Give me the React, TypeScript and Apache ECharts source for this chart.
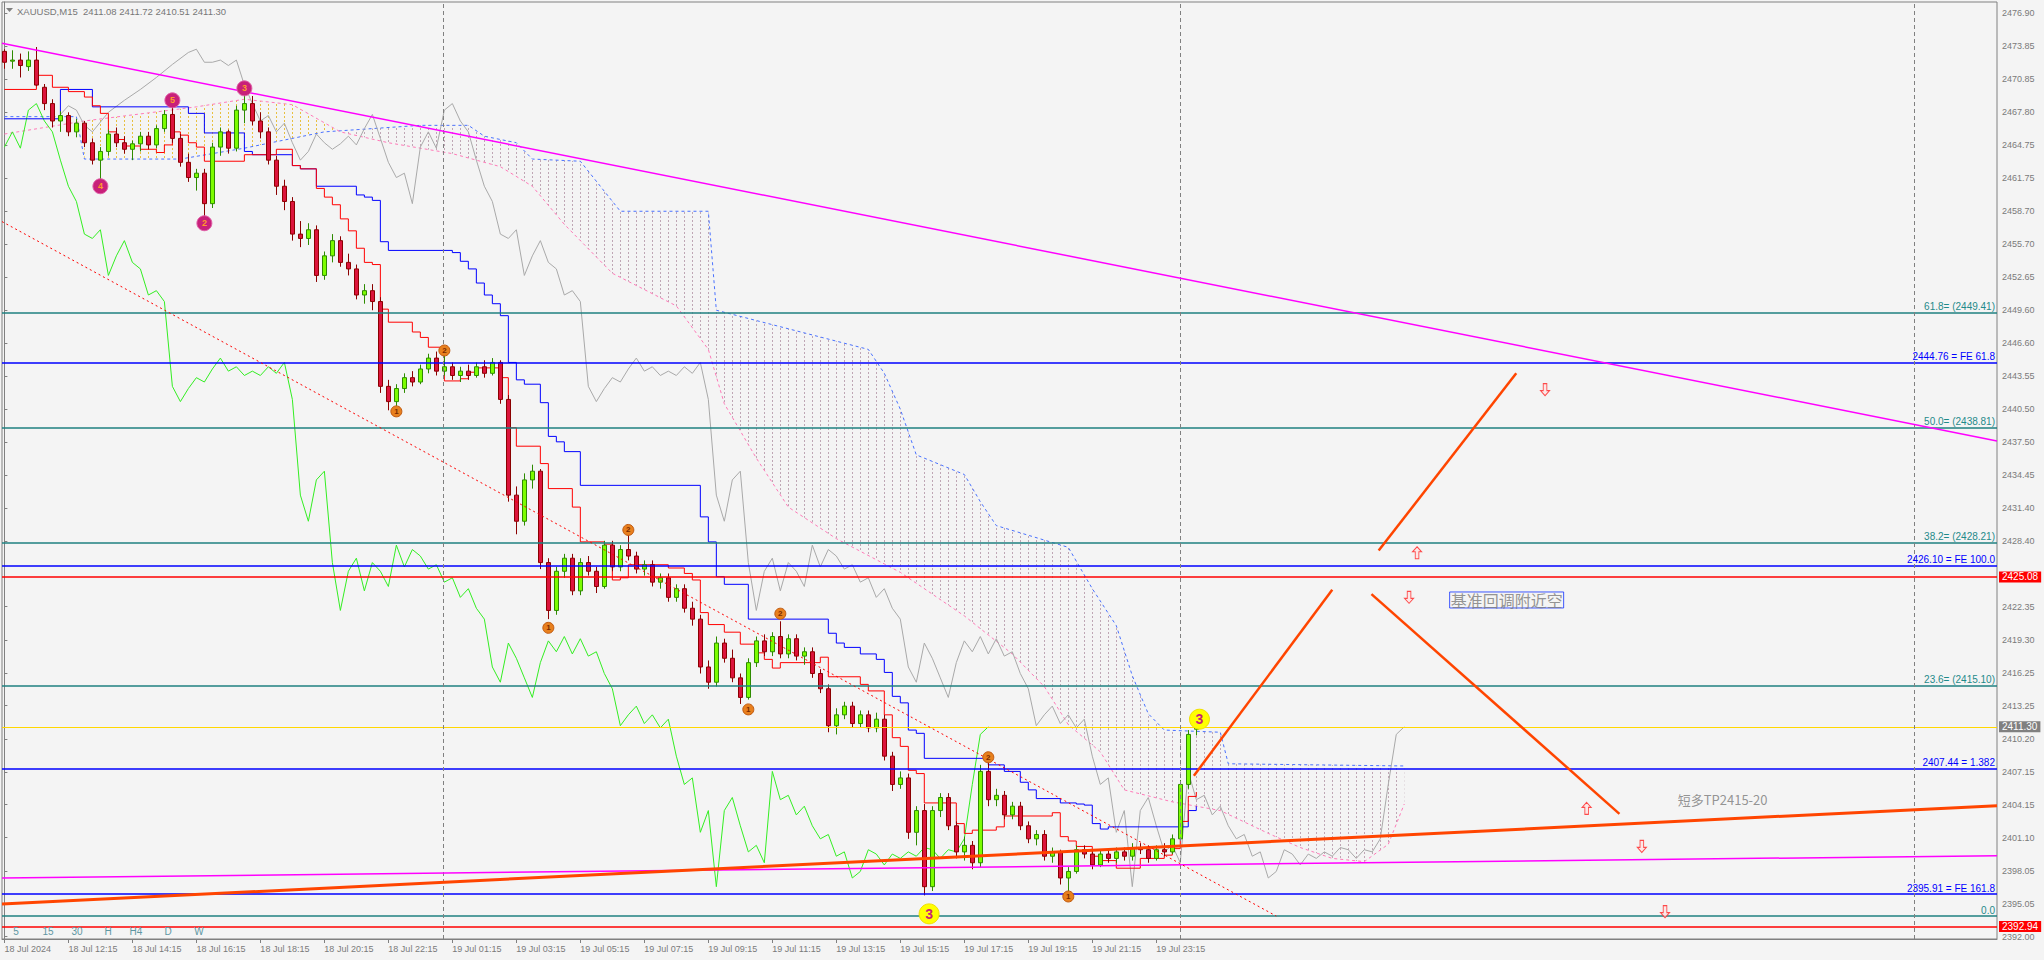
import React, { useEffect, useRef } from "react";
import * as echarts from "echarts";

// ---------- DATA ----------
// candles: [open, high, low, close], M15 bars from 18 Jul 10:15
const candles: number[][] = [
  [2473.4, 2473.6, 2471.8, 2472.4], [2472.5, 2473.5, 2471.8, 2472.6], [2472.6, 2473.2, 2471.0, 2472.1], [2472.0, 2473.4, 2471.6, 2472.6],
  [2472.6, 2473.8, 2470.2, 2470.3], [2470.1, 2470.4, 2468.0, 2468.6], [2468.6, 2469.0, 2466.4, 2467.0], [2467.0, 2467.9, 2466.0, 2467.5],
  [2467.5, 2467.8, 2465.6, 2466.0], [2466.0, 2467.2, 2465.5, 2466.8], [2466.8, 2467.0, 2464.6, 2465.0], [2465.0, 2465.4, 2463.0, 2463.4],
  [2463.4, 2464.6, 2461.6, 2464.2], [2464.2, 2466.2, 2463.8, 2465.8], [2465.8, 2466.4, 2464.6, 2465.0], [2465.0, 2465.6, 2464.0, 2464.4],
  [2464.4, 2465.2, 2463.4, 2464.9], [2464.9, 2466.0, 2464.2, 2465.6], [2465.6, 2466.0, 2464.4, 2464.8], [2464.8, 2466.6, 2464.5, 2466.3],
  [2466.3, 2468.0, 2466.0, 2467.6], [2467.6, 2468.6, 2465.0, 2465.4], [2465.4, 2465.8, 2462.8, 2463.2], [2463.2, 2464.0, 2461.4, 2461.8],
  [2461.8, 2462.6, 2460.6, 2462.2], [2462.2, 2462.6, 2458.0, 2459.4], [2459.4, 2465.0, 2459.0, 2464.6], [2464.6, 2466.4, 2463.8, 2466.0],
  [2466.0, 2466.2, 2464.0, 2464.5], [2464.5, 2468.4, 2464.2, 2468.0], [2468.0, 2469.8, 2466.8, 2468.6], [2468.6, 2469.3, 2466.6, 2467.0],
  [2467.0, 2467.8, 2465.4, 2466.0], [2466.0, 2466.4, 2463.0, 2463.4], [2463.4, 2463.8, 2460.2, 2461.0], [2461.0, 2461.6, 2458.8, 2459.6],
  [2459.6, 2460.0, 2456.0, 2456.6], [2456.6, 2457.8, 2455.4, 2456.2], [2456.2, 2457.6, 2455.6, 2457.0], [2457.0, 2457.4, 2452.2, 2452.8],
  [2452.8, 2455.0, 2452.4, 2454.6], [2454.6, 2456.6, 2454.0, 2456.0], [2456.0, 2456.4, 2453.6, 2454.0], [2454.0, 2454.8, 2452.8, 2453.4],
  [2453.4, 2453.8, 2450.6, 2451.0], [2451.0, 2452.0, 2450.2, 2451.4], [2451.4, 2452.0, 2449.6, 2450.4], [2450.4, 2450.8, 2442.0, 2442.6],
  [2442.6, 2443.2, 2440.4, 2441.2], [2441.2, 2442.8, 2440.8, 2442.4], [2442.4, 2443.8, 2442.0, 2443.4], [2443.4, 2444.0, 2442.6, 2443.0],
  [2443.0, 2444.6, 2442.8, 2444.2], [2444.2, 2445.6, 2443.8, 2445.2], [2445.2, 2445.8, 2443.6, 2444.0], [2444.0, 2445.6, 2443.6, 2444.4],
  [2444.4, 2444.8, 2443.2, 2443.6], [2443.6, 2444.4, 2443.0, 2444.0], [2444.0, 2444.6, 2443.2, 2443.6], [2443.6, 2444.8, 2443.4, 2444.4],
  [2444.4, 2445.0, 2443.4, 2443.8], [2443.8, 2445.2, 2443.6, 2444.8], [2444.8, 2445.0, 2441.0, 2441.4], [2441.4, 2441.8, 2432.0, 2432.6],
  [2432.6, 2433.4, 2429.0, 2430.2], [2430.2, 2434.6, 2429.8, 2434.0], [2434.0, 2435.4, 2433.2, 2434.8], [2434.8, 2435.0, 2425.8, 2426.4],
  [2426.4, 2426.8, 2421.2, 2422.0], [2422.0, 2426.0, 2421.6, 2425.6], [2425.6, 2427.2, 2425.0, 2426.8], [2426.8, 2427.2, 2423.4, 2423.8],
  [2423.8, 2426.8, 2423.4, 2426.4], [2426.4, 2427.0, 2425.2, 2425.6], [2425.6, 2426.0, 2423.6, 2424.2], [2424.2, 2428.4, 2424.0, 2428.0],
  [2428.0, 2428.4, 2425.6, 2426.0], [2426.0, 2428.0, 2425.6, 2427.6], [2427.6, 2429.0, 2426.6, 2427.0], [2427.0, 2427.4, 2425.4, 2425.8],
  [2425.8, 2426.6, 2425.2, 2426.2], [2426.2, 2426.6, 2424.2, 2424.6], [2424.6, 2425.4, 2424.0, 2425.0], [2425.0, 2425.4, 2422.8, 2423.2],
  [2423.2, 2424.4, 2422.8, 2424.0], [2424.0, 2424.4, 2421.8, 2422.2], [2422.2, 2422.8, 2420.6, 2421.2], [2421.2, 2421.6, 2416.2, 2416.8],
  [2416.8, 2417.4, 2414.8, 2415.4], [2415.4, 2419.6, 2415.0, 2419.0], [2419.0, 2419.4, 2417.2, 2417.6], [2417.6, 2418.4, 2415.4, 2415.8],
  [2415.8, 2416.2, 2413.4, 2414.0], [2414.0, 2417.6, 2413.8, 2417.2], [2417.2, 2419.6, 2416.8, 2419.2], [2419.2, 2419.8, 2417.8, 2418.2],
  [2418.2, 2420.0, 2417.8, 2419.6], [2419.6, 2421.0, 2417.6, 2418.0], [2418.0, 2419.8, 2417.6, 2419.4], [2419.4, 2419.8, 2417.4, 2417.8],
  [2417.8, 2418.6, 2417.0, 2418.2], [2418.2, 2418.6, 2415.8, 2416.2], [2416.2, 2416.6, 2414.4, 2414.8], [2414.8, 2415.2, 2410.8, 2411.4],
  [2411.4, 2413.0, 2410.6, 2412.4], [2412.4, 2413.6, 2412.0, 2413.2], [2413.2, 2413.6, 2411.2, 2411.6], [2411.6, 2412.8, 2411.2, 2412.4],
  [2412.4, 2412.8, 2410.8, 2411.2], [2411.2, 2412.6, 2410.8, 2412.0], [2412.0, 2412.4, 2408.2, 2408.6], [2408.6, 2409.0, 2405.4, 2406.0],
  [2406.0, 2407.2, 2405.6, 2406.6], [2406.6, 2407.0, 2401.0, 2401.6], [2401.6, 2404.0, 2400.4, 2403.6], [2403.6, 2404.2, 2395.8, 2396.6],
  [2396.6, 2404.0, 2396.2, 2403.6], [2403.6, 2405.2, 2403.0, 2404.8], [2404.8, 2405.2, 2401.8, 2402.2], [2402.2, 2402.6, 2399.2, 2399.8],
  [2399.8, 2401.2, 2399.0, 2400.4], [2400.4, 2400.8, 2398.2, 2398.8], [2398.8, 2407.8, 2398.4, 2407.2], [2407.2, 2408.0, 2404.0, 2404.6],
  [2404.6, 2405.6, 2404.0, 2405.0], [2405.0, 2405.4, 2402.8, 2403.2], [2403.2, 2404.4, 2402.8, 2404.0], [2404.0, 2404.4, 2401.8, 2402.2],
  [2402.2, 2402.6, 2400.6, 2401.0], [2401.0, 2401.8, 2400.4, 2401.4], [2401.4, 2401.8, 2399.0, 2399.4], [2399.4, 2400.2, 2398.8, 2399.8],
  [2399.8, 2400.0, 2396.8, 2397.4], [2397.4, 2398.4, 2396.2, 2398.0], [2398.0, 2400.4, 2397.8, 2400.0], [2400.0, 2400.4, 2399.2, 2399.6],
  [2399.6, 2400.0, 2398.2, 2398.6], [2398.6, 2400.0, 2398.4, 2399.6], [2399.6, 2400.0, 2398.8, 2399.2], [2399.2, 2400.2, 2398.8, 2399.8],
  [2399.8, 2400.2, 2399.0, 2399.4], [2399.4, 2400.6, 2399.0, 2400.2], [2400.2, 2400.6, 2399.6, 2400.0], [2400.0, 2400.4, 2398.8, 2399.2],
  [2399.2, 2400.4, 2399.0, 2400.0], [2400.0, 2400.6, 2399.4, 2399.8], [2399.8, 2401.4, 2399.6, 2401.0], [2401.0, 2406.4, 2400.8, 2406.0],
  [2406.0, 2411.0, 2405.6, 2410.6], [2411.08, 2411.72, 2410.51, 2411.30],
];

const xTickIdx = [0, 8, 16, 24, 32, 40, 48, 56, 64, 72, 80, 88, 96, 104, 112, 120, 128, 136, 144];
const xLabels = [
  "18 Jul 2024", "18 Jul 12:15", "18 Jul 14:15", "18 Jul 16:15", "18 Jul 18:15", "18 Jul 20:15", "18 Jul 22:15",
  "19 Jul 01:15", "19 Jul 03:15", "19 Jul 05:15", "19 Jul 07:15", "19 Jul 09:15", "19 Jul 11:15", "19 Jul 13:15",
  "19 Jul 15:15", "19 Jul 17:15", "19 Jul 19:15", "19 Jul 21:15", "19 Jul 23:15",
];
const yTicks = [
  2476.9, 2473.85, 2470.85, 2467.8, 2464.75, 2461.75, 2458.7, 2455.7, 2452.65, 2449.6, 2446.6, 2443.55, 2440.5,
  2437.5, 2434.45, 2431.4, 2428.4, 2422.35, 2419.3, 2416.25, 2413.25, 2410.2, 2407.15, 2404.15, 2401.1, 2398.05,
  2395.05, 2392.0,
];

// Ichimoku lines: [bar, price]
const tenkan = [
  [0, 2469.9], [4, 2471.2], [6, 2470.1], [8, 2469.7], [10, 2469.2], [11, 2468.4], [12, 2467.7], [13, 2466.0], [14, 2465.3],
  [15, 2464.7], [17, 2464.4], [19, 2464.1], [20, 2464.8], [21, 2466.0], [22, 2465.7], [23, 2465.0], [24, 2464.6], [25, 2463.3],
  [30, 2463.9], [34, 2464.4], [36, 2462.9], [37, 2462.6], [39, 2460.8], [40, 2460.0], [41, 2459.3], [42, 2458.0], [43, 2456.9],
  [44, 2455.3], [45, 2454.0], [46, 2453.8], [47, 2449.7], [48, 2448.5], [51, 2447.6], [52, 2447.1], [53, 2446.2], [55, 2443.1],
  [57, 2443.3], [58, 2443.9], [59, 2444.3], [62, 2443.4], [63, 2438.8], [64, 2437.1], [67, 2435.5], [68, 2433.2], [71, 2431.5],
  [72, 2428.3], [75, 2428.1], [76, 2424.8], [77, 2425.0], [78, 2426.2], [83, 2425.9], [85, 2425.4], [86, 2424.8], [87, 2421.8],
  [88, 2420.7], [90, 2420.0], [92, 2418.9], [94, 2418.1], [95, 2417.5], [96, 2416.7], [97, 2417.2], [102, 2417.7], [103, 2415.9],
  [107, 2415.2], [108, 2414.6], [110, 2412.4], [111, 2410.3], [112, 2409.5], [113, 2407.3], [114, 2407.0], [115, 2404.3],
  [119, 2402.4], [120, 2401.5], [121, 2401.8], [124, 2402.1], [125, 2403.1], [131, 2403.4], [132, 2401.2], [133, 2400.8],
  [134, 2400.3], [136, 2399.4], [137, 2399.0], [139, 2398.3], [142, 2399.2], [145, 2399.5], [146, 2400.1], [147, 2402.6],
  [148, 2404.9], [149, 2405.3],
];
const kijun = [
  [0, 2467.2], [7, 2469.9], [11, 2468.3], [23, 2467.7], [25, 2465.9], [30, 2464.2], [31, 2463.9], [36, 2462.9], [37, 2462.6],
  [39, 2461.0], [44, 2460.2], [45, 2460.0], [46, 2459.7], [47, 2455.9], [48, 2455.1], [56, 2454.9], [57, 2454.1], [58, 2453.4],
  [59, 2452.1], [60, 2451.0], [61, 2450.2], [62, 2449.1], [63, 2444.8], [64, 2443.2], [65, 2442.8], [67, 2441.1], [68, 2438.0],
  [69, 2437.5], [70, 2436.6], [72, 2433.5], [87, 2430.6], [88, 2428.3], [89, 2425.1], [90, 2424.4], [93, 2421.2], [103, 2419.9],
  [104, 2419.0], [105, 2418.6], [107, 2418.0], [109, 2417.5], [110, 2416.3], [111, 2414.1], [112, 2413.5], [113, 2411.0],
  [114, 2410.7], [115, 2408.4], [123, 2407.8], [125, 2407.2], [127, 2406.2], [128, 2405.5], [129, 2404.7], [132, 2404.3],
  [134, 2404.2], [135, 2404.1], [136, 2402.4], [137, 2401.9], [138, 2402.1], [148, 2403.6], [149, 2404.0],
];
const spanB = [
  [0, 2467.4], [9, 2467.4], [10, 2463.5], [22, 2463.5], [30, 2464.5], [40, 2466.0], [42, 2466.1], [52, 2466.6], [58, 2466.6],
  [60, 2465.6], [64, 2465.0], [66, 2463.5], [72, 2463.3], [77, 2458.7], [88, 2458.7], [89, 2449.6], [108, 2446.0], [110, 2443.8],
  [112, 2440.5], [114, 2436.3], [120, 2434.5], [122, 2432.0], [124, 2429.8], [133, 2427.8], [136, 2424.0], [139, 2420.6],
  [141, 2416.0], [143, 2412.5], [145, 2411.0], [152, 2410.8], [153, 2407.9], [175, 2407.7],
];
const spanA = [
  [0, 2465.8], [10, 2467.0], [24, 2468.3], [30, 2469.0], [36, 2468.5], [42, 2466.0], [48, 2465.0], [56, 2464.0], [62, 2462.8],
  [66, 2461.0], [70, 2457.5], [76, 2453.0], [84, 2450.0], [88, 2446.0], [90, 2441.0], [94, 2436.0], [98, 2431.5], [104, 2428.6],
  [112, 2425.5], [120, 2421.5], [126, 2418.0], [130, 2415.0], [133, 2411.5], [137, 2409.0], [140, 2405.5], [146, 2404.4],
  [152, 2403.6], [158, 2401.5], [162, 2400.2], [166, 2399.2], [170, 2398.9], [173, 2400.5], [175, 2404.2],
];
// gray displaced close (+26): part coming from bars before the window
const grayHistory = [
  [7, 2467.6], [8, 2468.4], [9, 2468.0], [10, 2466.6], [11, 2466.0], [12, 2466.9], [13, 2467.8], [15, 2468.9], [17, 2469.9],
  [19, 2471.0], [21, 2472.2], [23, 2473.3], [24, 2473.6], [25, 2472.4],
];

// horizontal levels
const levelValues = [2449.41, 2444.76, 2438.81, 2428.21, 2426.1, 2425.08, 2415.1, 2411.3, 2407.44, 2395.91, 2393.89, 2392.94];
const levelKinds = ["fib", "fe", "fib", "fib", "fe", "red", "fib", "bid", "fe", "fe", "fib", "red"];
const levelTexts = [
  "61.8= (2449.41)", "2444.76 = FE 61.8", "50.0= (2438.81)", "38.2= (2428.21)", "2426.10 = FE 100.0", "2425.08",
  "23.6= (2415.10)", "2411.30", "2407.44 = 1.382", "2395.91 = FE 161.8", "0.0", "2392.94",
];
const separators = [54.8, 146.97, 238.8];

// trend lines [bar, price]
const magentaUpper = [[-0.3, 2474.14], [249.1, 2437.58]];
const magentaLower = [[-0.3, 2397.4], [249.1, 2399.45]];
const orangeLong = [[-0.3, 2395.0], [249.1, 2404.05]];
const redDotted = [[-0.3, 2457.75], [159.0, 2393.9]];
const drawn1 = [[148.7, 2406.8], [166.0, 2423.9]];
const drawn2 = [[171.8, 2427.5], [189.0, 2443.8]];
const drawn3 = [[170.9, 2423.5], [201.9, 2403.3]];

// markers [bar, price, label]
const pinkMarks = [[12, 2461.0, "4"], [21, 2468.9, "5"], [25, 2457.6, "2"], [30, 2470.0, "3"]];
const orangeMarks = [
  [49, 2440.3, "1"], [55, 2445.9, "2"], [68, 2420.4, "1"], [78, 2429.4, "2"], [93, 2412.9, "1"], [97, 2421.7, "2"],
  [123, 2408.5, "2"], [133, 2395.7, "1"],
];
const yellowMarks = [[115.6, 2394.1, "3"], [149.4, 2412.0, "3"]];
const downArrows = [[192.6, 2442.3], [175.6, 2423.2], [204.7, 2400.3], [207.6, 2394.3]];
const upArrows = [[176.6, 2427.3], [197.8, 2403.8]];

const notes = [
  { at: [187.8, 2422.96], text: "基准回调附近空", boxed: true },
  { at: [214.8, 2404.6], text: "短多TP2415-20", boxed: false },
];
const header = "XAUUSD,M15  2411.08 2411.72 2410.51 2411.30";
const tfButtons = ["5", "15", "30", "H", "H4", "D", "W"];

// ---------- CHART ----------
const X_MIN = -0.3;
const X_MAX = 249.1;
const Y_MIN = 2391.79;
const Y_MAX = 2477.94;
const FONT = "'Liberation Sans', Arial, sans-serif";

function hatch(color: string) {
  const c = document.createElement("canvas");
  c.width = 8;
  c.height = 4;
  const ctx = c.getContext("2d")!;
  ctx.fillStyle = color;
  ctx.fillRect(4, 0, 1, 2);
  return { image: c.toDataURL(), repeat: "repeat", imageWidth: 8, imageHeight: 4 } as any;
}

function inRange(arr: number[][], a: number, b: number) {
  return arr.filter((p) => p[0] >= a && p[0] <= b);
}

function cloudSeries(upper: number[][], lower: number[][], fill: any) {
  return {
    type: "custom",
    silent: true,
    z: 1,
    clip: true,
    data: [[0, Y_MIN]],
    renderItem: (_p: any, api: any) => {
      const pts = [...upper.map((p) => api.coord(p)), ...lower.slice().reverse().map((p) => api.coord(p))];
      return { type: "polygon", shape: { points: pts }, style: { fill, stroke: "none" } };
    },
  };
}

function trend(data: number[][], color: string, width: number, type: any = "solid", z = 5) {
  return {
    type: "line",
    data,
    showSymbol: false,
    silent: true,
    z,
    lineStyle: { color, width, type },
  };
}

function buildOption(): any {
  const levelLines = levelValues.map((v, i) => {
    const kind = levelKinds[i];
    const color = kind === "fib" ? "#1f8080" : kind === "fe" ? "#0000ff" : kind === "red" ? "#ff0000" : "#ffd700";
    const boxed = kind === "red" || kind === "bid";
    return {
      yAxis: v,
      lineStyle: { color, width: kind === "bid" ? 1 : 1.5, type: "solid" },
      label: boxed
        ? {
            show: true,
            position: "end",
            distance: 2,
            formatter: levelTexts[i],
            color: "#ffffff",
            backgroundColor: kind === "red" ? "#ff0000" : "#808080",
            padding: [1, 3, 0, 3],
            fontSize: 10,
            fontFamily: FONT,
          }
        : {
            show: true,
            position: "insideEndTop",
            distance: [2, 1],
            formatter: levelTexts[i],
            color: kind === "fib" ? "#1f8a8a" : "#0000ff",
            fontSize: 10,
            fontFamily: FONT,
          },
    };
  });

  const sepLines = separators.map((v) => ({
    xAxis: v,
    lineStyle: { color: "#808080", width: 1, type: [4, 3] },
    label: { show: false },
  }));

  const markerSeries = (data: any[], size: number, color: string, border: string, txtColor: string, fs: number) => ({
    type: "scatter",
    data,
    symbol: "circle",
    symbolSize: size,
    silent: true,
    z: 8,
    itemStyle: { color, borderColor: border, borderWidth: 1, opacity: 1 },
    label: {
      show: true,
      position: "inside",
      formatter: (p: any) => p.value[2],
      color: txtColor,
      fontSize: fs,
      fontWeight: "bold",
      fontFamily: FONT,
    },
  });

  return {
    animation: false,
    backgroundColor: "#f4f4f4",
    grid: {
      left: 2,
      top: 2,
      width: 1995,
      height: 937,
      show: true,
      borderColor: "#808080",
      borderWidth: 1,
      backgroundColor: "transparent",
    },
    xAxis: {
      type: "value",
      min: X_MIN,
      max: X_MAX,
      axisLine: { show: true, onZero: false, lineStyle: { color: "#808080", width: 1 } },
      axisTick: { show: true, customValues: xTickIdx, length: 4, lineStyle: { color: "#808080" } },
      axisLabel: {
        show: true,
        customValues: xTickIdx,
        formatter: (v: number) => xLabels[xTickIdx.indexOf(Math.round(v))] ?? "",
        align: "left",
        color: "#7a7a7a",
        fontSize: 9,
        fontFamily: FONT,
        margin: 5,
      },
      splitLine: { show: false },
    },
    yAxis: {
      type: "value",
      position: "right",
      min: Y_MIN,
      max: Y_MAX,
      axisLine: { show: true, lineStyle: { color: "#808080", width: 1 } },
      axisTick: { show: true, customValues: yTicks, length: 3, lineStyle: { color: "#808080" } },
      axisLabel: {
        show: true,
        customValues: yTicks,
        formatter: (v: number) => v.toFixed(2),
        color: "#7a7a7a",
        fontSize: 9,
        fontFamily: FONT,
        margin: 5,
      },
      splitLine: { show: false },
    },
    graphic: [
      { type: "polygon", shape: { points: [[6, 8], [13, 8], [9.5, 12]] }, style: { fill: "#808080" }, z: 20 },
      {
        type: "text",
        x: 17,
        y: 11,
        style: { text: header, fill: "#777777", font: `9.5px ${FONT}`, textVerticalAlign: "middle" },
        z: 20,
      },
      ...tfButtons.map((t, i) => ({
        type: "text",
        x: [16, 48, 77, 108, 136, 168, 199][i],
        y: 931,
        style: { text: t, fill: "#5f97a3", font: `10px ${FONT}`, textAlign: "center", textVerticalAlign: "middle" },
        z: 20,
      })),
    ],
    series: [
      cloudSeries(inRange(spanA, 10, 42), inRange(spanB, 10, 42), hatch("#e8c040")),
      cloudSeries(inRange(spanB, 42, 175), inRange(spanA, 42, 175), hatch("#bfa6b4")),
      {
        type: "line",
        data: [[X_MIN, Y_MIN]],
        showSymbol: false,
        silent: true,
        z: 2,
        lineStyle: { width: 0 },
        markLine: { silent: true, symbol: ["none", "none"], animation: false, data: [...levelLines, ...sepLines] },
      },
      trend(spanB, "#4a72ff", 1, [3, 3], 3),
      trend(spanA, "#ff7ab8", 1, [3, 3], 3),
      trend(grayHistory.concat(candles.map((c, i) => [i + 26, c[3]])), "#a9a9a9", 1, "solid", 3),
      trend(candles.slice(26).map((c, k) => [k, c[3]]), "#33ee22", 1, "solid", 3),
      { ...trend(kijun, "#0000ff", 1, "solid", 3), step: "end" },
      { ...trend(tenkan, "#ff0000", 1, "solid", 3), step: "end" },
      {
        type: "candlestick",
        data: candles.map((c, i) => [i, c[0], c[3], c[2], c[1]]),
        encode: { x: 0, y: [1, 2, 3, 4] },
        barWidth: 5,
        silent: true,
        z: 4,
        itemStyle: {
          color: "#7cfc00",
          color0: "#dc143c",
          borderColor: "#2e8b00",
          borderColor0: "#8b0000",
          borderWidth: 1,
        },
      },
      trend(magentaUpper, "#ff00ff", 1.5),
      trend(magentaLower, "#ff00ff", 1.5),
      trend(orangeLong, "#ff4500", 3),
      trend(redDotted, "#ff0000", 1, [2, 3]),
      trend(drawn1, "#ff4500", 2.5),
      trend(drawn2, "#ff4500", 2.5),
      trend(drawn3, "#ff4500", 2.5),
      markerSeries(pinkMarks, 15, "#c8207a", "#e060a8", "#ff9a2a", 9),
      markerSeries(orangeMarks, 11, "#e8801e", "#c05a10", "#7a2a00", 8),
      markerSeries(yellowMarks, 20, "#ffff00", "#f0e000", "#c81e78", 14),
      {
        type: "scatter",
        data: downArrows,
        symbol: "path://M3,0L7,0L7,7L10,7L5,12L0,7L3,7Z",
        symbolSize: [9, 12],
        silent: true,
        z: 8,
        itemStyle: { color: "#ffe4e4", borderColor: "#ff2020", borderWidth: 1 },
      },
      {
        type: "scatter",
        data: upArrows,
        symbol: "path://M5,0L10,5L7,5L7,12L3,12L3,5L0,5Z",
        symbolSize: [9, 12],
        silent: true,
        z: 8,
        itemStyle: { color: "#ffe4e4", borderColor: "#ff2020", borderWidth: 1 },
      },
      {
        type: "scatter",
        data: notes.map((n) => ({
          value: n.at,
          label: n.boxed
            ? {
                show: true,
                position: "inside",
                formatter: n.text,
                color: "#7a7a7a",
                fontSize: 16,
                lineHeight: 16,
                fontFamily: "'Noto Sans CJK SC', sans-serif",
                borderColor: "#1030ff",
                borderWidth: 1,
                padding: [0, 1, 0, 1],
              }
            : {
                show: true,
                position: "inside",
                formatter: n.text,
                color: "#7a7a7a",
                fontSize: 13,
                fontFamily: "'Noto Sans CJK SC', sans-serif",
              },
        })),
        symbolSize: 0,
        silent: true,
        z: 9,
      },
    ],
  };
}

export default function App() {
  const ref = useRef<HTMLDivElement>(null);
  useEffect(() => {
    const chart = echarts.init(ref.current!, undefined, { renderer: "svg" });
    chart.setOption(buildOption());
    return () => chart.dispose();
  }, []);
  return <div ref={ref} style={{ position: "fixed", left: 0, top: 0, width: 2044, height: 960 }} />;
}
